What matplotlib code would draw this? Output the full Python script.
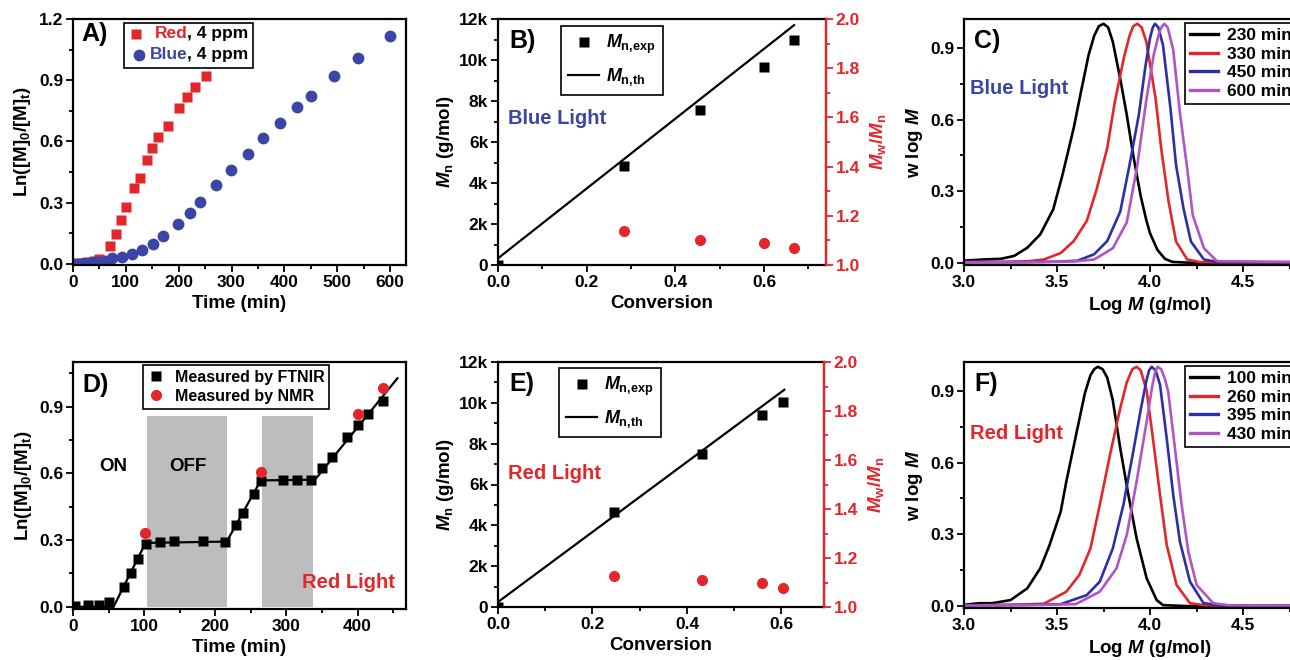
import numpy as np
import matplotlib
matplotlib.use('Agg')
import matplotlib.pyplot as plt
from matplotlib.ticker import MultipleLocator, FuncFormatter, FormatStrFormatter
from matplotlib.patches import Rectangle

plt.rcParams['font.family'] = ['Liberation Sans', 'DejaVu Sans']
plt.rcParams['font.weight'] = 'bold'
plt.rcParams['axes.labelweight'] = 'bold'
plt.rcParams['mathtext.fontset'] = 'custom'
plt.rcParams['mathtext.rm'] = 'Liberation Sans:bold'
plt.rcParams['mathtext.bf'] = 'Liberation Sans:bold'
plt.rcParams['mathtext.it'] = 'Liberation Sans:bold:italic'
plt.rcParams['mathtext.default'] = 'bf'

RED = '#e3262b'
BLUE = '#3a45a5'
LBLUE = '#2c2fa8'
PURPLE = '#b155c2'
GRAY = '#bdbdbd'

# ---- A) kinetics, red vs blue light
red_t = [0, 10, 20, 30, 40, 50, 70, 81, 91, 100, 116, 126, 140, 150, 160, 180, 200, 216, 231, 251]
red_lnm = [0.0, 0.003, 0.006, 0.009, 0.013, 0.024, 0.09, 0.146, 0.215, 0.28, 0.37, 0.42, 0.51,
           0.567, 0.62, 0.678, 0.763, 0.816, 0.865, 0.92]
blue_t = [0, 10, 20, 30, 40, 50, 60, 73, 92, 112, 131, 151, 171, 199, 221, 240, 271, 299, 331,
          360, 391, 423, 450, 494, 540, 600]
blue_lnm = [0.0, 0.002, 0.004, 0.006, 0.009, 0.012, 0.017, 0.028, 0.036, 0.05, 0.07, 0.098, 0.138,
            0.198, 0.252, 0.306, 0.389, 0.462, 0.541, 0.618, 0.693, 0.769, 0.824, 0.923, 1.011, 1.119]

# ---- B) blue light Mn / dispersity
b_conv = [0.0, 0.285, 0.455, 0.601, 0.668]
b_mn = [0, 4850, 7560, 9680, 11000]
b_disp_conv = [0.285, 0.455, 0.601, 0.668]
b_disp = [1.14, 1.10, 1.089, 1.07]
b_th_conv = [0.0, 0.668]
b_th_mn = [325, 11700]

# ---- C) GPC traces, blue light
c_labels = ['230 min', '330 min', '450 min', '600 min']
c230_x = [3.00, 3.10, 3.20, 3.27, 3.34, 3.41, 3.48, 3.53, 3.59, 3.63, 3.67, 3.70, 3.725, 3.75, 3.775,
          3.80, 3.84, 3.875, 3.91, 3.95, 3.98, 4.00, 4.04, 4.08, 4.12, 4.20, 4.40, 5.00]
c230_y = [0.010, 0.015, 0.018, 0.030, 0.064, 0.12, 0.225, 0.37, 0.565, 0.72, 0.87, 0.95, 0.99, 1.0,
          0.985, 0.925, 0.77, 0.62, 0.45, 0.28, 0.18, 0.125, 0.055, 0.018, 0.005, 0.002, 0.0, 0.0]
c330_x = [3.00, 3.20, 3.35, 3.43, 3.52, 3.59, 3.66, 3.71, 3.77, 3.81, 3.86, 3.89, 3.91, 3.932, 3.955,
          3.98, 4.03, 4.06, 4.10, 4.14, 4.20, 4.27, 4.50, 5.00]
c330_y = [0.005, 0.005, 0.008, 0.015, 0.042, 0.092, 0.176, 0.30, 0.48, 0.67, 0.86, 0.95, 0.99, 1.0,
          0.985, 0.926, 0.689, 0.48, 0.257, 0.09, 0.015, 0.004, 0.002, 0.002]
c450_x = [3.00, 3.30, 3.50, 3.61, 3.70, 3.77, 3.84, 3.89, 3.94, 3.975, 4.00, 4.015, 4.027, 4.045,
          4.07, 4.11, 4.14, 4.18, 4.22, 4.29, 4.37, 5.00]
c450_y = [0.004, 0.004, 0.006, 0.01, 0.037, 0.092, 0.215, 0.41, 0.62, 0.82, 0.94, 0.985, 1.0, 0.985,
          0.91, 0.647, 0.41, 0.229, 0.09, 0.015, 0.004, 0.003]
c600_x = [3.00, 3.40, 3.60, 3.70, 3.80, 3.875, 3.93, 3.98, 4.02, 4.05, 4.065, 4.077, 4.095, 4.125,
          4.16, 4.20, 4.23, 4.29, 4.36, 5.00]
c600_y = [0.003, 0.004, 0.007, 0.015, 0.062, 0.17, 0.40, 0.68, 0.87, 0.965, 0.99, 1.0, 0.985, 0.89,
          0.633, 0.396, 0.2, 0.062, 0.008, 0.003]

# ---- D) on/off kinetics, red light
d_t = [3, 21, 36, 51, 71, 81, 91, 102, 122, 142, 183, 214, 229, 239, 254, 264, 295, 315, 335, 350,
       364, 385, 401, 415, 436]
d_lnm = [0.003, 0.006, 0.01, 0.02, 0.091, 0.151, 0.215, 0.283, 0.29, 0.296, 0.296, 0.293, 0.369,
         0.423, 0.508, 0.565, 0.571, 0.571, 0.571, 0.622, 0.671, 0.762, 0.816, 0.868, 0.925]
d_nmr_t = [101, 264, 401, 436]
d_nmr_lnm = [0.332, 0.604, 0.867, 0.982]
d_fit_t = [0, 57, 102, 216, 264, 340, 456]
d_fit_lnm = [0.0, 0.0, 0.287, 0.293, 0.568, 0.571, 1.027]
off_start = [104.5, 266]
off_end = [217, 337]
off_top = 0.858

# ---- E) red light Mn / dispersity
e_conv = [0.0, 0.245, 0.432, 0.558, 0.604]
e_mn = [0, 4670, 7500, 9390, 10030]
e_disp_conv = [0.245, 0.432, 0.558, 0.604]
e_disp = [1.127, 1.109, 1.098, 1.079]
e_th_conv = [0.0, 0.606]
e_th_mn = [245, 10640]

# ---- F) GPC traces, red light
f_labels = ['100 min', '260 min', '395 min', '430 min']
f100_x = [3.00, 3.08, 3.10, 3.15, 3.25, 3.34, 3.41, 3.46, 3.52, 3.55, 3.61, 3.65, 3.68, 3.70, 3.72,
          3.745, 3.77, 3.80, 3.84, 3.884, 3.928, 3.982, 4.036, 4.07, 4.20, 5.00]
f100_y = [0.005, 0.012, 0.012, 0.012, 0.025, 0.074, 0.158, 0.255, 0.395, 0.52, 0.743, 0.89, 0.965,
          0.99, 1.0, 0.99, 0.955, 0.86, 0.66, 0.464, 0.283, 0.116, 0.025, 0.004, 0.0, 0.0]
f260_x = [3.00, 3.30, 3.43, 3.55, 3.62, 3.68, 3.73, 3.785, 3.84, 3.875, 3.905, 3.928, 3.95, 3.982,
          4.018, 4.054, 4.09, 4.143, 4.215, 4.30, 5.00]
f260_y = [0.003, 0.006, 0.01, 0.06, 0.13, 0.241, 0.423, 0.632, 0.827, 0.935, 0.99, 1.0, 0.985, 0.9,
          0.687, 0.464, 0.255, 0.088, 0.012, 0.003, 0.002]
f395_x = [3.00, 3.30, 3.52, 3.66, 3.73, 3.80, 3.857, 3.91, 3.95, 3.98, 3.995, 4.009, 4.03, 4.054,
          4.09, 4.125, 4.161, 4.215, 4.287, 4.37, 5.00]
f395_y = [0.003, 0.005, 0.008, 0.046, 0.102, 0.241, 0.423, 0.646, 0.82, 0.94, 0.985, 1.0, 0.985,
          0.925, 0.7, 0.464, 0.269, 0.102, 0.013, 0.003, 0.002]
f430_x = [3.00, 3.35, 3.60, 3.73, 3.82, 3.875, 3.928, 3.982, 4.01, 4.028, 4.041, 4.06, 4.08, 4.098,
          4.134, 4.17, 4.206, 4.251, 4.34, 4.43, 5.00]
f430_y = [0.002, 0.004, 0.008, 0.06, 0.158, 0.297, 0.52, 0.771, 0.91, 0.98, 1.0, 0.99, 0.95, 0.896,
          0.66, 0.423, 0.227, 0.088, 0.012, 0.003, 0.002]

gpc_colors = ['black', RED, LBLUE, PURPLE]

W, H = 1290, 660
fig = plt.figure(figsize=(12.9, 6.6), dpi=100)


def box(l, r, t, b):
    return [l / W, 1 - b / H, (r - l) / W, (b - t) / H]


def style(ax, xmaj, xmin, ymaj, ymin):
    ax.xaxis.set_major_locator(MultipleLocator(xmaj))
    ax.xaxis.set_minor_locator(MultipleLocator(xmin))
    ax.yaxis.set_major_locator(MultipleLocator(ymaj))
    ax.yaxis.set_minor_locator(MultipleLocator(ymin))
    ax.tick_params(which='both', direction='out', top=False, right=False, width=1.3,
                   labelsize=12.5, pad=2)
    ax.tick_params(which='major', length=5)
    ax.tick_params(which='minor', length=3)
    for s in ax.spines.values():
        s.set_linewidth(1.6)


def panel(ax, letter, x, y):
    ax.text(x, y, letter, transform=ax.transAxes, fontsize=18, va='center', ha='left', zorder=8)


kfmt = FuncFormatter(lambda v, p: '0' if v == 0 else '%dk' % round(v / 1000))

# ================= A
axA = fig.add_axes(box(73, 406, 19, 265))
axA.plot(red_t, red_lnm, 's', color=RED, ms=7, mec='none')
axA.plot(blue_t, blue_lnm, 'o', color=BLUE, ms=8.5, mec='none')
axA.set_xlim(0, 630)
axA.set_ylim(-0.005, 1.2)
style(axA, 100, 50, 0.3, 0.15)
axA.yaxis.set_major_formatter(FormatStrFormatter('%.1f'))
axA.set_xlabel('Time (min)', fontsize=13.5, labelpad=4)
axA.set_ylabel(r'Ln([M]$_\mathbf{0}$/[M]$_\mathbf{t}$)', fontsize=13.5, labelpad=4)
panel(axA, 'A)', 0.025, 0.94)
axA.add_patch(Rectangle((0.152, 0.80), 0.388, 0.184, transform=axA.transAxes, facecolor='white',
                        edgecolor='black', lw=1.2, zorder=5))
axA.plot([0.19], [0.94], 's', color=RED, ms=7, mec='none', transform=axA.transAxes, zorder=6,
         clip_on=False)
axA.plot([0.199], [0.854], 'o', color=BLUE, ms=8.5, mec='none', transform=axA.transAxes, zorder=6,
         clip_on=False)
for yy, word, col in [(0.94, 'Red', RED), (0.854, 'Blue', BLUE)]:
    t1 = axA.text(0.527, yy, ', 4 ppm', transform=axA.transAxes, ha='right', va='center',
                  fontsize=12.5, zorder=6)
    axA.annotate(word, xy=(0, 0), xycoords=t1, ha='right', va='bottom', fontsize=12.5,
                 color=col, zorder=6)


# ================= B / E
def mn_panel(rect, conv, mn, th_conv, th_mn, d_conv, disp, xmax, letter, light, lcol, light_y,
             leg_xy):
    ax = fig.add_axes(rect)
    ax.plot(th_conv, th_mn, '-', color='black', lw=1.6, label=r'$\mathit{M}_\mathrm{n{,}th}$')
    ax.plot(conv, mn, 's', color='black', ms=7, mec='none', label=r'$\mathit{M}_\mathrm{n{,}exp}$')
    ax.set_xlim(0, xmax)
    ax.set_ylim(0, 12000)
    style(ax, 0.2, 0.1, 2000, 1000)
    ax.yaxis.set_major_formatter(kfmt)
    ax.xaxis.set_major_formatter(FormatStrFormatter('%.1f'))
    ax.set_xlabel('Conversion', fontsize=13.5, labelpad=4)
    ax.set_ylabel(r'$\mathit{M}_\mathrm{n}$ (g/mol)', fontsize=13.5, labelpad=2)
    h, l = ax.get_legend_handles_labels()
    leg = ax.legend([h[1], h[0]], [l[1], l[0]], loc='upper left', bbox_to_anchor=leg_xy,
                    fancybox=False, edgecolor='black', framealpha=1, fontsize=13,
                    handlelength=1.7, labelspacing=0.55, borderpad=0.4, handletextpad=0.4,
                    borderaxespad=0)
    leg.get_frame().set_linewidth(1.2)
    leg.set_zorder(7)
    ax.text(0.022, light_y, light, color=lcol, fontsize=14.5, va='center', ha='left')
    panel(ax, letter, 0.035, 0.91)
    ax2 = ax.twinx()
    ax2.plot(d_conv, disp, 'o', color=RED, ms=8, mec='none')
    ax2.set_ylim(1.0, 2.0)
    ax2.yaxis.set_major_locator(MultipleLocator(0.2))
    ax2.yaxis.set_minor_locator(MultipleLocator(0.1))
    ax2.yaxis.set_major_formatter(FormatStrFormatter('%.1f'))
    ax2.tick_params(which='both', direction='out', colors=RED, width=1.3, labelsize=12.5, pad=2)
    ax2.tick_params(which='major', length=5)
    ax2.tick_params(which='minor', length=3)
    for k in ['left', 'top', 'bottom']:
        ax2.spines[k].set_visible(False)
    ax2.spines['right'].set_color(RED)
    ax2.spines['right'].set_linewidth(1.6)
    ax2.set_ylabel(r'$\mathit{M}_\mathrm{w}/\mathit{M}_\mathrm{n}$', color=RED, fontsize=13.5,
                   rotation=90, labelpad=6)
    return ax


axB = mn_panel(box(498, 826, 19, 265), b_conv, b_mn, b_th_conv, b_th_mn, b_disp_conv, b_disp,
               0.74, 'B)', 'Blue Light', BLUE, 7150, (0.192, 0.972))
axE = mn_panel(box(498, 824, 362, 607), e_conv, e_mn, e_th_conv, e_th_mn, e_disp_conv, e_disp,
               0.69, 'E)', 'Red Light', RED, 6550, (0.187, 0.976))


# ================= C / F
def gpc_panel(rect, curves, labels, letter, light, lcol, light_y):
    ax = fig.add_axes(rect)
    for (xs, ys), lab, col in zip(curves, labels, gpc_colors):
        ax.plot(xs, ys, '-', color=col, lw=1.9, label=lab, solid_joinstyle='round')
    ax.set_xlim(3.0, 5.0)
    ax.set_ylim(-0.008, 1.02)
    style(ax, 0.5, 0.25, 0.3, 0.15)
    ax.set_xticks([3.0, 3.5, 4.0, 4.5])
    ax.xaxis.set_major_formatter(FormatStrFormatter('%.1f'))
    ax.yaxis.set_major_formatter(FormatStrFormatter('%.1f'))
    ax.set_xlabel(r'Log $\mathit{M}$ (g/mol)', fontsize=13.5, labelpad=4)
    ax.set_ylabel(r'w log $\mathit{M}$', fontsize=13.5, labelpad=4)
    leg = ax.legend(loc='upper left', bbox_to_anchor=(0.594, 0.985), fancybox=False,
                    edgecolor='black', framealpha=1, fontsize=12.5, handlelength=1.6,
                    labelspacing=0.2, borderpad=0.3, handletextpad=0.5, borderaxespad=0)
    leg.get_frame().set_linewidth(1.2)
    for ln in leg.get_lines():
        ln.set_linewidth(2.4)
    ax.text(3.03, light_y, light, color=lcol, fontsize=14.5, va='center', ha='left')
    panel(ax, letter, 0.028, 0.91)
    return ax


axC = gpc_panel(box(964, 1336, 19, 265),
                [(c230_x, c230_y), (c330_x, c330_y), (c450_x, c450_y), (c600_x, c600_y)],
                c_labels, 'C)', 'Blue Light', BLUE, 0.73)
axF = gpc_panel(box(964, 1336, 362, 608),
                [(f100_x, f100_y), (f260_x, f260_y), (f395_x, f395_y), (f430_x, f430_y)],
                f_labels, 'F)', 'Red Light', RED, 0.72)

# ================= D
axD = fig.add_axes(box(73, 406, 362, 609))
for s0, s1 in zip(off_start, off_end):
    axD.fill_between([s0, s1], 0, off_top, color=GRAY, lw=0, zorder=0)
axD.plot(d_fit_t, d_fit_lnm, '-', color='black', lw=1.6, zorder=2)
axD.plot(d_t, d_lnm, 's', color='black', ms=7, mec='none', zorder=3, label='Measured by FTNIR')
axD.plot(d_nmr_t, d_nmr_lnm, 'o', color=RED, ms=8, mec='none', zorder=4, label='Measured by NMR')
axD.set_xlim(0, 468)
axD.set_ylim(-0.01, 1.1)
style(axD, 100, 50, 0.3, 0.15)
axD.yaxis.set_major_formatter(FormatStrFormatter('%.1f'))
axD.set_xlabel('Time (min)', fontsize=13.5, labelpad=4)
axD.set_ylabel(r'Ln([M]$_\mathbf{0}$/[M]$_\mathbf{t}$)', fontsize=13.5, labelpad=4)
legD = axD.legend(loc='upper left', bbox_to_anchor=(0.21, 0.988), fancybox=False,
                  edgecolor='black', framealpha=1, fontsize=11.5, handlelength=1.0,
                  labelspacing=0.25, borderpad=0.3, handletextpad=0.7, borderaxespad=0)
legD.get_frame().set_linewidth(1.2)
axD.text(56, 0.629, 'ON', fontsize=13.5, ha='center', va='center')
axD.text(162, 0.629, 'OFF', fontsize=13.5, ha='center', va='center')
axD.text(453, 0.107, 'Red Light', color=RED, fontsize=14.5, ha='right', va='center')
panel(axD, 'D)', 0.028, 0.905)

fig.savefig('out.png', dpi=100)
